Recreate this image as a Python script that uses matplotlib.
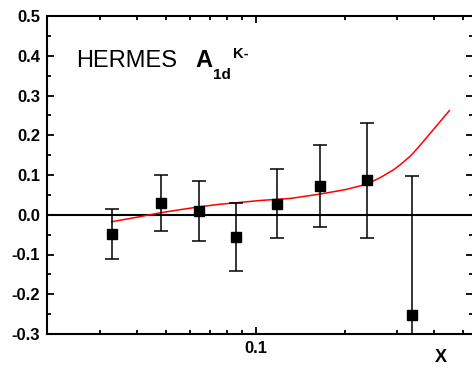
import matplotlib
matplotlib.use("Agg")
import matplotlib.pyplot as plt
from matplotlib.ticker import FixedLocator, NullFormatter, FuncFormatter

plt.rcParams['font.family'] = ['Liberation Sans', 'DejaVu Sans']

# HERMES A1d K- data points
x_data = [0.0328, 0.0479, 0.0647, 0.0859, 0.118, 0.165, 0.238, 0.337]
y_data = [-0.048, 0.030, 0.009, -0.056, 0.028, 0.072, 0.087, -0.252]
y_err = [0.063, 0.071, 0.075, 0.086, 0.087, 0.104, 0.145, 0.350]

# fit curve
x_fit = [0.0328, 0.040, 0.0478, 0.0560, 0.0647, 0.0750, 0.0856, 0.104, 0.131,
         0.165, 0.200, 0.238, 0.264, 0.293, 0.311, 0.334, 0.355, 0.380,
         0.412, 0.450]
y_fit = [-0.0175, -0.006, 0.005, 0.013, 0.020, 0.026, 0.030, 0.036, 0.041,
         0.052, 0.063, 0.077, 0.094, 0.114, 0.129, 0.149, 0.171, 0.197,
         0.228, 0.262]

y_major = [-0.3, -0.2, -0.1, 0.0, 0.1, 0.2, 0.3, 0.4, 0.5]
y_minor = [-0.25, -0.15, -0.05, 0.05, 0.15, 0.25, 0.35, 0.45]
x_major = [0.1]
x_minor = [0.03, 0.04, 0.05, 0.06, 0.07, 0.08, 0.09, 0.2, 0.3, 0.4, 0.5]

fig = plt.figure(figsize=(4.72, 3.70), dpi=100)
ax = fig.add_axes([47 / 472, 36 / 370, 426 / 472, 318 / 370])

ax.set_xscale('log')
ax.set_xlim(0.01983, 0.5405)
ax.set_ylim(-0.3, 0.5)

ax.axhline(0, color='black', lw=1.5, zorder=1)
ax.plot(x_fit, y_fit, color='red', lw=1.1, zorder=2)
ax.errorbar(x_data, y_data, yerr=y_err, fmt='s', color='black', ms=7,
            elinewidth=1.1, capsize=5, capthick=1.1, zorder=3, clip_on=True)

ax.xaxis.set_major_locator(FixedLocator(x_major))
ax.xaxis.set_minor_locator(FixedLocator(x_minor))
ax.xaxis.set_major_formatter(FuncFormatter(lambda v, p: f"{v:g}"))
ax.xaxis.set_minor_formatter(NullFormatter())
ax.yaxis.set_major_locator(FixedLocator(y_major))
ax.yaxis.set_minor_locator(FixedLocator(y_minor))
ax.yaxis.set_major_formatter(FuncFormatter(lambda v, p: f"{v:.1f}"))

ax.tick_params(which='both', direction='in', top=True, right=True, width=1.3)
ax.tick_params(which='major', length=5, labelsize=12, pad=5)
ax.tick_params(which='minor', length=3)
for lab in ax.get_xticklabels() + ax.get_yticklabels():
    lab.set_fontweight('bold')
for s in ax.spines.values():
    s.set_linewidth(1.5)

fig.text(441 / 472, 1 - 357 / 370, "X", fontsize=13, fontweight='bold',
         ha='center', va='center')

fig.text(76 / 472, 1 - 67 / 370, "HERMES", fontsize=17, ha='left', va='baseline')
fig.text(195 / 472, 1 - 67 / 370, "A", fontsize=17, fontweight='bold',
         ha='left', va='baseline')
fig.text(212.5 / 472, 1 - 79 / 370, "1d", fontsize=11, fontweight='bold',
         ha='left', va='baseline')
fig.text(232.5 / 472, 1 - 58.5 / 370, "K-", fontsize=10.5, fontweight='bold',
         ha='left', va='baseline')

fig.savefig('out.png', dpi=100)
